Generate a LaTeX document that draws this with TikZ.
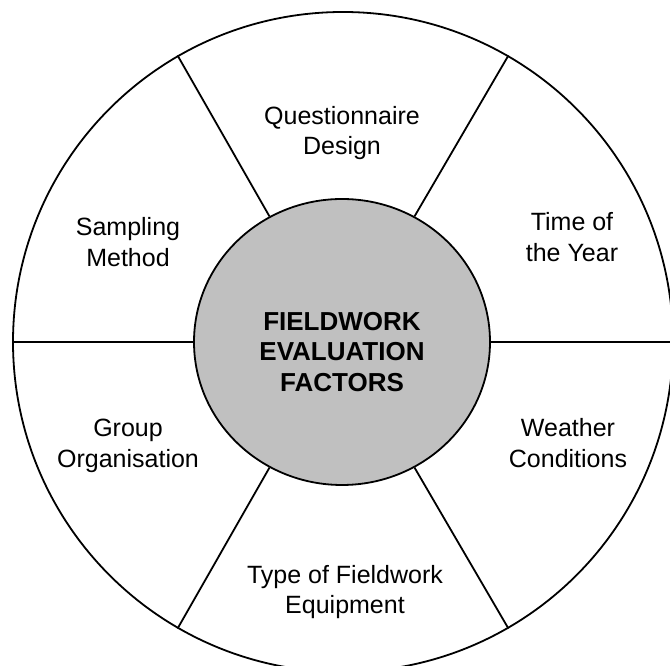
\documentclass[tikz,border=0pt]{standalone}
\usepackage{fontspec}
\setmainfont{Liberation Sans}
\usepackage{xcolor}
\usetikzlibrary{shapes,positioning,calc}

\definecolor{hubgrey}{RGB}{192,192,192}

\begin{document}
\begin{tikzpicture}[x=1pt, y=1pt,
    factor/.style={align=center, font=\fontsize{25}{30.5}\selectfont},
    spoke/.style={line width=1.8pt}]
    \useasboundingbox (0,0) rectangle (670,666);
    \node (rim) [circle, draw, line width=1.8pt, minimum size=660pt, inner sep=0pt] at (343,324) {};
    \node (hub) [ellipse, draw, fill=hubgrey, line width=1.8pt, minimum width=296pt, minimum height=286pt, inner sep=0pt] at (342,324) {};
    \node (hubtext) [align=center, font=\fontsize{26}{30.5}\selectfont\bfseries] at ([yshift=-10pt]hub.center) {FIELDWORK\\EVALUATION\\FACTORS};

    % spokes between the two circles
    \foreach \a in {0,60,...,300}
        \draw [spoke] (hub.\a) -- (rim.\a);

    \node (questionnaire) [factor] at (342,533) {Questionnaire\\Design};
    \node (time) [factor] at (572,429) {Time of\\the Year};
    \node (sampling) [factor] at (128,424) {Sampling\\Method};
    \node (group) [factor] at (128,220) {Group\\Organisation};
    \node (weather) [factor] at (568,223) {Weather\\Conditions};
    \node (equipment) [factor] at (345,74) {Type of Fieldwork\\Equipment};
\end{tikzpicture}
\end{document}
